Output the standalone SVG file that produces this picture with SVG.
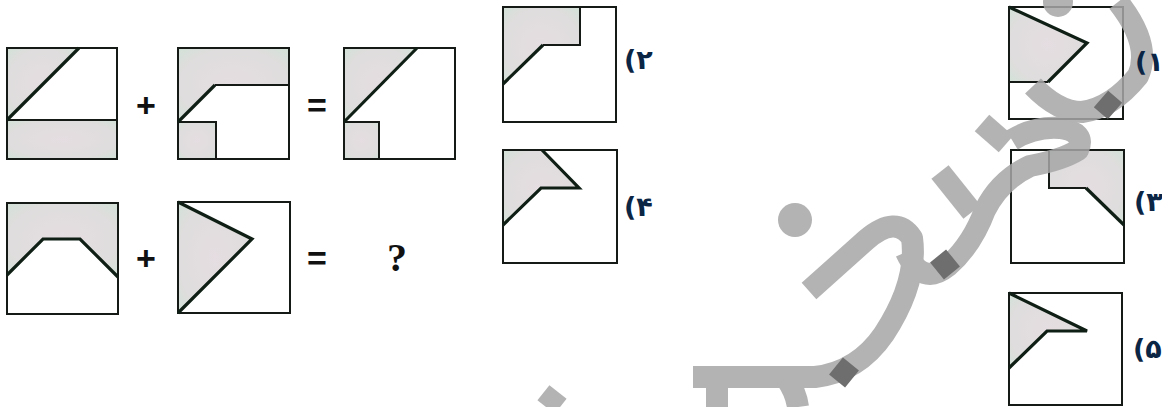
<svg xmlns="http://www.w3.org/2000/svg" width="1162" height="407" viewBox="0 0 1162 407">
<defs>
<radialGradient id="shade" cx="0.5" cy="0.5" r="0.7">
<stop offset="0" stop-color="#e5dde1"/>
<stop offset="0.7" stop-color="#dfdddd"/>
<stop offset="1" stop-color="#d2e2d8"/>
</radialGradient>
</defs>
<style>
.sh{fill:url(#shade);stroke:none}
.box{fill:none;stroke:#151a17;stroke-width:2}
.ln{fill:none;stroke:#151a17;stroke-width:2}
.tk{fill:none;stroke:#0f1f15;stroke-width:3.2;stroke-linejoin:miter}
.op{font-family:"Liberation Sans",Arial,sans-serif;font-weight:bold;font-size:34px;fill:#111;text-anchor:middle}
.q{font-family:"Liberation Serif","Times New Roman",serif;font-weight:bold;font-size:40px;fill:#111;text-anchor:middle}
.lb{font-family:"DejaVu Sans","Noto Sans",sans-serif;font-weight:bold;font-size:27px;fill:#0b2545}
.wm{fill:none;stroke:#a6a6a6;stroke-width:22;stroke-linecap:butt;stroke-linejoin:round}
.dk{fill:none;stroke:#555;stroke-width:22}
</style>
<rect width="1162" height="407" fill="#fff"/>

<g id="q1a">
<polygon class="sh" points="7,48 79,48 7,120"/>
<rect class="sh" x="7" y="120" width="110" height="39"/>
<rect class="box" x="7" y="48" width="110" height="111"/>
<line class="ln" x1="7" y1="120" x2="117" y2="120"/>
<line class="tk" x1="7" y1="120" x2="79" y2="48"/>
</g>
<g id="plus1"><text class="op" x="146" y="117">+</text></g>
<g id="q1b">
<polygon class="sh" points="178,48 289,48 289,85 215,85 178,122"/>
<rect class="sh" x="178" y="122" width="38" height="37"/>
<rect class="box" x="178" y="48" width="111" height="111"/>
<polyline class="ln" points="215,85 289,85"/>
<polyline class="ln" points="178,122 216,122 216,159"/>
<line class="tk" x1="178" y1="122" x2="215" y2="85"/>
</g>
<g id="eq1"><text class="op" x="317" y="117">=</text></g>
<g id="q1c">
<polygon class="sh" points="344,48 417,48 344,122"/>
<rect class="sh" x="344" y="122" width="35" height="37"/>
<rect class="box" x="344" y="48" width="111" height="111"/>
<polyline class="ln" points="344,122 379,122 379,159"/>
<line class="tk" x1="344" y1="122" x2="417" y2="48"/>
</g>

<g id="q2a">
<polygon class="sh" points="7,203 118,203 118,277 80,239 43,239 7,275"/>
<rect class="box" x="7" y="203" width="111" height="111"/>
<polyline class="tk" points="7,275 43,239 80,239 118,277"/>
</g>
<g id="plus2"><text class="op" x="146" y="270">+</text></g>
<g id="q2b">
<polygon class="sh" points="178,202 252,239 178,313"/>
<rect class="box" x="178" y="202" width="112" height="111"/>
<polyline class="tk" points="178,202 252,239 178,313"/>
</g>
<g id="eq2"><text class="op" x="317" y="270">=</text></g>
<g id="qmark"><text class="q" x="397" y="271">?</text></g>

<g id="opt2">
<polygon class="sh" points="503,7 580,7 580,45 543,45 503,84"/>
<rect class="box" x="503" y="7" width="113" height="115"/>
<polyline class="ln" points="580,7 580,45 543,45"/>
<line class="tk" x1="503" y1="84" x2="543" y2="45"/>
</g>
<g id="opt4">
<polygon class="sh" points="503,150 542,150 579,188 541,188 503,225"/>
<rect class="box" x="503" y="150" width="114" height="113"/>
<polyline class="tk" points="542,150 579,188 541,188 503,225"/>
</g>
<g id="opt1">
<polygon class="sh" points="1009,7 1087,43 1048,82 1009,82"/>
<rect class="box" x="1009" y="7" width="114" height="112"/>
<line class="ln" x1="1009" y1="82" x2="1048" y2="82"/>
<polyline class="tk" points="1009,7 1087,43 1048,82"/>
</g>
<g id="opt3">
<polygon class="sh" points="1049,150 1124,150 1124,225 1086,188 1049,188"/>
<rect class="box" x="1011" y="150" width="113" height="113"/>
<polyline class="ln" points="1049,150 1049,188 1086,188"/>
<line class="tk" x1="1086" y1="188" x2="1124" y2="225"/>
</g>
<g id="opt5">
<polygon class="sh" points="1009,293 1087,331 1047,331 1009,368"/>
<rect class="box" x="1009" y="293" width="113" height="112"/>
<polyline class="tk" points="1009,293 1087,331 1047,331 1009,368"/>
</g>

<g id="watermark" opacity="0.85">
<circle cx="795" cy="220" r="17" fill="#a6a6a6"/>
<circle cx="1058" cy="2" r="15" fill="#a6a6a6"/>
<path class="wm" d="M809,291 L866,240 Q896,214 912,238 Q918,282 884,334 Q858,372 815,377 L693,377"/>
<path class="wm" d="M717,380 L717,407 M786,378 Q796,392 798,407"/>
<path class="wm" d="M558,392 L546,407"/>
<path class="wm" d="M906,252 Q922,287 948,266 Q972,245 985,210 Q1000,180 1030,166 Q1062,160 1078,150 Q1086,132 1060,128 Q1035,126 1012,140"/>
<path class="wm" d="M940,172 L972,212"/>
<path class="wm" d="M982,123 L1006,144"/>
<path class="wm" d="M1033,86 Q1058,112 1082,112 Q1112,108 1138,76 Q1152,45 1118,2"/>
<path class="dk" d="M937,271 L953,258 M836,366 L852,379 M1101,99 L1115,111"/>
</g>

<g id="labels">
<text class="lb" x="624" y="69">(۲</text>
<text class="lb" x="624" y="216">(۴</text>
<text class="lb" x="1135" y="71">(۱</text>
<text class="lb" x="1134" y="211">(۳</text>
<text class="lb" x="1133" y="358">(۵</text>
</g>
</svg>
